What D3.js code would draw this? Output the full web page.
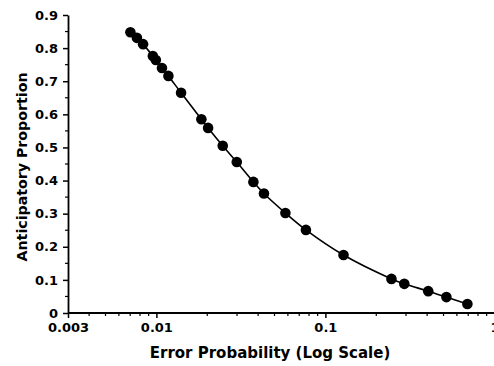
<html>
  <head>
    <script src="https://d3js.org/d3.v7.min.js"></script>
    <style>
body {
  margin: 0;
  background: #fff;
}
.tick-label {
  font-family: "DejaVu Sans", sans-serif;
  font-weight: bold;
  font-size: 13px;
  fill: #000;
}
.axis-title {
  font-family: "DejaVu Sans", sans-serif;
  font-weight: bold;
  fill: #000;
}
    </style>
  </head>
  <body>
    <div id="chart"></div>
<script>
/* Data */
var errorProb = [0.00702, 0.00767, 0.00834, 0.00953, 0.00993, 0.01079, 0.01178, 0.0140,
  0.01846, 0.02023, 0.0247, 0.0299, 0.0375, 0.0433, 0.058, 0.0767, 0.128,
  0.246, 0.293, 0.406, 0.520, 0.692];
var anticipatory = [0.848, 0.831, 0.812, 0.776, 0.764, 0.740, 0.716, 0.665,
  0.585, 0.559, 0.505, 0.456, 0.396, 0.361, 0.302, 0.251, 0.175,
  0.103, 0.088, 0.066, 0.048, 0.027];
var xTickValues = [0.003, 0.01, 0.1, 1];
var xTickLabels = ["0.003", "0.01", "0.1", "1"];
var yTickValues = [0, 0.1, 0.2, 0.3, 0.4, 0.5, 0.6, 0.7, 0.8, 0.9];
var yTickLabels = ["0", "0.1", "0.2", "0.3", "0.4", "0.5", "0.6", "0.7", "0.8", "0.9"];

var width = 494;
var height = 366;

var points = errorProb.map((d, i) => ({x: d, y: anticipatory[i]}));

/* Scales */
var xScale = d3.scaleLog()
  .domain([0.003, 1])
  .range([68, 494.4]);
var yScale = d3.scaleLinear()
  .domain([0, 0.9])
  .range([313, 15]);

var svg = d3.select("#chart").append("svg")
  .attr("width", width)
  .attr("height", height);

/* Minor ticks */
var xMinor = xScale.ticks().filter(d => d >= 0.003 && xTickValues.indexOf(d) < 0);
svg.append("g").selectAll("line")
  .data(xMinor).enter()
  .append("line")
  .attr("x1", d => xScale(d))
  .attr("x2", d => xScale(d))
  .attr("y1", 313)
  .attr("y2", 316)
  .attr("stroke", "#000")
  .attr("stroke-width", 1.2);

var yMinor = d3.range(0.05, 0.9, 0.1);
svg.append("g").selectAll("line")
  .data(yMinor).enter()
  .append("line")
  .attr("x1", 65)
  .attr("x2", 68)
  .attr("y1", d => yScale(d))
  .attr("y2", d => yScale(d))
  .attr("stroke", "#000")
  .attr("stroke-width", 1.2);

/* Axes */
var xAxis = d3.axisBottom(xScale)
  .tickValues(xTickValues)
  .tickFormat((d, i) => xTickLabels[i])
  .tickSize(5)
  .tickSizeOuter(0)
  .tickPadding(5);
var yAxis = d3.axisLeft(yScale)
  .tickValues(yTickValues)
  .tickFormat((d, i) => yTickLabels[i])
  .tickSize(5)
  .tickSizeOuter(0)
  .tickPadding(5);

var gx = svg.append("g")
  .attr("transform", "translate(0,313)")
  .call(xAxis);
gx.select(".domain").attr("stroke-width", 2.2).attr("d", "M68,0H494");
gx.selectAll(".tick line").attr("stroke-width", 1.5);
gx.selectAll(".tick text").attr("class", "tick-label").attr("font-family", null).attr("font-size", null);

var gy = svg.append("g")
  .attr("transform", "translate(68,0)")
  .call(yAxis);
gy.select(".domain").attr("stroke-width", 1.8);
gy.selectAll(".tick line").attr("stroke-width", 1.5);
gy.selectAll(".tick text").attr("class", "tick-label").attr("font-family", null).attr("font-size", null);

/* Curve and markers */
var line = d3.line()
  .x(d => xScale(d.x))
  .y(d => yScale(d.y))
  .curve(d3.curveCatmullRom);

svg.append("path")
  .datum(points)
  .attr("d", line)
  .attr("fill", "none")
  .attr("stroke", "#000")
  .attr("stroke-width", 1.6);

svg.append("g").selectAll("circle")
  .data(points).enter()
  .append("circle")
  .attr("cx", d => xScale(d.x))
  .attr("cy", d => yScale(d.y))
  .attr("r", 5.3)
  .attr("fill", "#000");

/* Titles */
svg.append("text")
  .attr("class", "axis-title")
  .attr("x", 270)
  .attr("y", 358)
  .attr("text-anchor", "middle")
  .attr("font-size", "15px")
  .text("Error Probability (Log Scale)");

svg.append("text")
  .attr("class", "axis-title")
  .attr("transform", "translate(27,167) rotate(-90)")
  .attr("text-anchor", "middle")
  .attr("font-size", "14.2px")
  .text("Anticipatory Proportion");
</script>
  </body>
</html>
